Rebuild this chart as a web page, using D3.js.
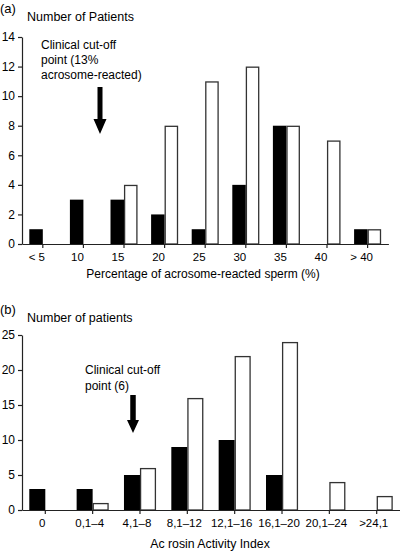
<!DOCTYPE html>
<html><head><meta charset="utf-8">
<script src="https://cdn.jsdelivr.net/npm/d3@7"></script>
<style>
body{margin:0;background:#fff;}
svg text{font-family:"Liberation Sans",Arial,Helvetica,sans-serif;fill:#000;}
</style></head>
<body>
<svg id="c" width="400" height="552"></svg>
<script>
// Panel (a)
const catsA = ["< 5","10","15","20","25","30","35","40","> 40"];
const blackA = [1,3,3,2,1,4,8,0,1];
const whiteA = [0,0,4,8,11,12,8,7,1];
const ticksA = [0,2,4,6,8,10,12,14];
// Panel (b)
const catsB = ["0","0,1\u20134","4,1\u20138","8,1\u201312","12,1\u201316","16,1\u201320","20,1\u201324",">24,1"];
const blackB = [3,3,5,9,10,5,0,0];
const whiteB = [0,1,6,16,22,24,4,2];
const ticksB = [0,5,10,15,20,25];

const svg = d3.select("#c");
const FS = 12;

function panel(cfg){
  const g = svg.append("g");
  const x = d3.scaleBand().domain(cfg.cats).range(cfg.xr).paddingInner(cfg.pi).paddingOuter(cfg.po);
  const xs = d3.scaleBand().domain(["black","white"]).range([0, x.bandwidth()]);
  const y = d3.scaleLinear().domain(cfg.yd).range(cfg.yr);
  const rows = cfg.cats.map((c,i)=>({c, black:cfg.black[i], white:cfg.white[i]}));
  ["black","white"].forEach(s=>{
    g.selectAll("rect."+s).data(rows.filter(d=>d[s]>0)).join("rect")
      .attr("class",s)
      .attr("x",d=>x(d.c)+xs(s)+(s==="white"?0.6:0))
      .attr("width",xs.bandwidth()-(s==="white"?1.2:0))
      .attr("y",d=>y(d[s])+(s==="white"?0.6:0))
      .attr("height",d=>y(0)-y(d[s])-(s==="white"?0.6:0))
      .attr("fill",s==="black"?"#000":"#fff")
      .attr("stroke",s==="black"?"none":"#333")
      .attr("stroke-width",1.3);
  });
  // y axis
  const ya = g.append("g").attr("transform",`translate(${cfg.xr[0]},0)`)
    .call(d3.axisLeft(y).tickValues(cfg.ticks).tickSize(4).tickSizeOuter(0).tickPadding(3));
  ya.selectAll("text").style("font-size",FS+"px");
  // x axis
  const xa = g.append("g").attr("transform",`translate(0,${cfg.yr[0]})`)
    .call(d3.axisBottom(x).tickSize(4).tickSizeOuter(0).tickPadding(5));
  xa.selectAll("text").style("font-size",(FS-0.5)+"px").attr("dx",cfg.ldx);
  [ya,xa].forEach(a=>{a.selectAll("path,line").attr("stroke","#222").attr("stroke-width",1.2);
    a.selectAll("text").attr("fill","#000").style("font-family",'"Liberation Sans",Arial,sans-serif');});
  return g;
}

panel({cats:catsA, black:blackA, white:whiteA, ticks:ticksA, yd:[0,14], yr:[244,37],
  xr:[22,388.4], pi:0.335, po:0.18, ldx:-6});
panel({cats:catsB, black:blackB, white:whiteB, ticks:ticksB, yd:[0,25], yr:[510,335],
  xr:[22,400], pi:0.3235, po:0.154, ldx:-3});

function txt(x,y,s,anchor,fs){
  svg.append("text").attr("x",x).attr("y",y).attr("text-anchor",anchor||"start")
    .style("font-size",(fs||FS)+"px").text(s);
}
// Panel (a) labels
txt(0,13,"(a)","start",13);
txt(27,21,"Number of Patients","start",12.5);
txt(41,49,"Clinical cut-off");
txt(41,64,"point (13%");
txt(41,78.5,"acrosome-reacted)");
txt(203,278,"Percentage of acrosome-reacted sperm (%)","middle",12);
// Panel (b) labels
txt(0,314,"(b)","start",13);
txt(27,322,"Number of patients","start",12.5);
txt(85,374,"Clinical cut-off");
txt(85,390,"point (6)");
txt(210,548,"Ac rosin Activity Index","middle",12.3);

function arrow(cx, y0, yh, yt, sw, hw){
  svg.append("path")
    .attr("d",`M${cx-sw/2},${y0}L${cx+sw/2},${y0}L${cx+sw/2},${yh}L${cx+hw/2},${yh}L${cx},${yt}L${cx-hw/2},${yh}L${cx-sw/2},${yh}Z`)
    .attr("fill","#000");
}
arrow(100,87,119,134,5,13);
arrow(133,395,420,433,5.5,12);
</script>
</body></html>
